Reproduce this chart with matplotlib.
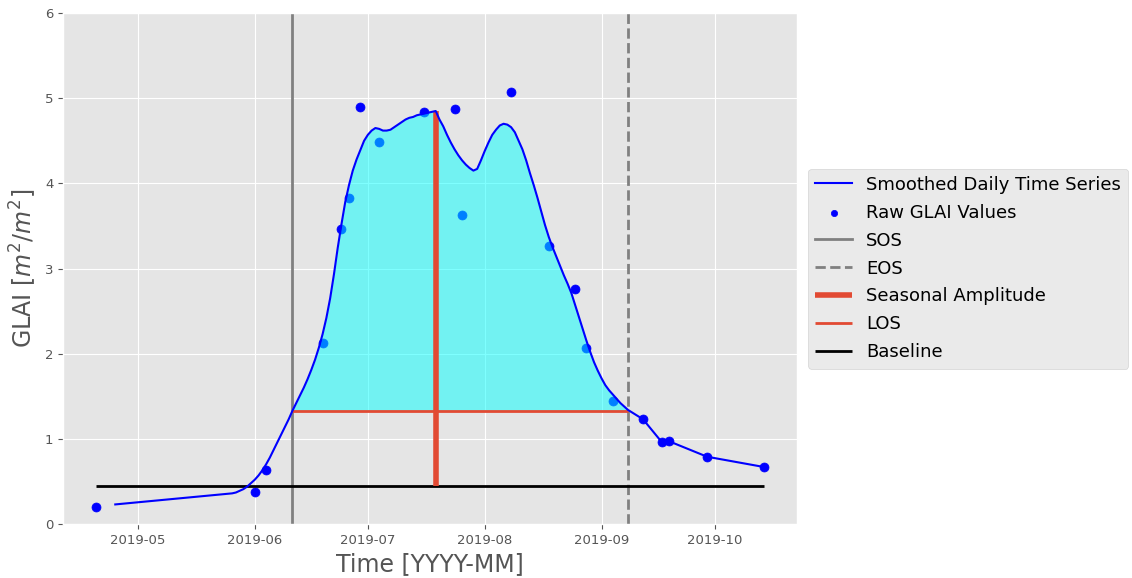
import matplotlib
matplotlib.use("Agg")
import matplotlib.pyplot as plt
import numpy as np
import pandas as pd

plt.style.use("ggplot")

# raw GLAI observations
raw_dates = pd.to_datetime(["2019-04-20", "2019-06-01", "2019-06-04", "2019-06-19", "2019-06-24",
                            "2019-06-26", "2019-06-29", "2019-07-04", "2019-07-16", "2019-07-24",
                            "2019-07-26", "2019-08-08", "2019-08-18", "2019-08-25", "2019-08-28",
                            "2019-09-04", "2019-09-12", "2019-09-17", "2019-09-19", "2019-09-29",
                            "2019-10-14"])
raw_vals = [0.20, 0.38, 0.64, 2.13, 3.46, 3.83, 4.90, 4.49, 4.84, 4.87,
            3.63, 5.07, 3.27, 2.76, 2.07, 1.44, 1.23, 0.96, 0.97, 0.79, 0.67]

# smoothed daily series
may_vals = [0.36, 0.37, 0.39, 0.41, 0.44, 0.48]  # May 26-31
jun_vals = [0.52, 0.57, 0.63, 0.70, 0.78, 0.87, 0.96, 1.05, 1.14, 1.23,
            1.33, 1.42, 1.51, 1.60, 1.70, 1.81, 1.93, 2.07, 2.23, 2.42,
            2.65, 2.93, 3.24, 3.52, 3.78, 3.98, 4.15, 4.28, 4.39, 4.50]
jul_vals = [4.57, 4.62, 4.65, 4.64, 4.62, 4.62, 4.63, 4.66, 4.69, 4.72,
            4.75, 4.77, 4.78, 4.80, 4.81, 4.82, 4.83, 4.84, 4.85, 4.75,
            4.67, 4.57, 4.48, 4.40, 4.33, 4.27, 4.22, 4.18, 4.15, 4.17, 4.27]
aug_vals = [4.38, 4.48, 4.57, 4.63, 4.68, 4.70, 4.69, 4.66, 4.60, 4.50,
            4.40, 4.27, 4.12, 3.98, 3.83, 3.67, 3.51, 3.37, 3.25, 3.14,
            3.03, 2.92, 2.82, 2.71, 2.57, 2.43, 2.29, 2.15, 2.02, 1.90, 1.80]
sep_vals = [1.71, 1.63, 1.57, 1.52, 1.47, 1.42, 1.38, 1.34]  # Sep 1-8
tail_dates = pd.to_datetime(["2019-09-12", "2019-09-17", "2019-09-19", "2019-09-29", "2019-10-14"])
tail_vals = [1.23, 0.96, 0.97, 0.79, 0.67]

smooth_dates = (pd.DatetimeIndex([pd.Timestamp("2019-04-25")])
                .append(pd.date_range("2019-05-26", "2019-09-08", freq="D"))
                .append(tail_dates))
smooth_vals = [0.23] + may_vals + jun_vals + jul_vals + aug_vals + sep_vals + tail_vals

sos_date = pd.Timestamp("2019-06-11")
eos_date = pd.Timestamp("2019-09-08")
peak_date = pd.Timestamp("2019-07-19")
peak_val = 4.85
los_level = 1.33
baseline = 0.445

fig = plt.figure(figsize=(11.32, 5.78), dpi=100)
ax = fig.add_axes([0.0557, 0.0934, 0.6484, 0.884])

ax.plot(smooth_dates, smooth_vals, color="blue", lw=1.5, label="Smoothed Daily Time Series", zorder=3)
ax.scatter(raw_dates, raw_vals, color="blue", s=42, label="Raw GLAI Values", zorder=1)
sd = np.array(smooth_dates)
ax.fill_between(smooth_dates, smooth_vals, los_level,
                where=(sd >= np.datetime64(sos_date)) & (sd <= np.datetime64(eos_date)),
                color="cyan", alpha=0.5, zorder=1, linewidth=0)
ax.axvline(sos_date, color="grey", lw=2, label="SOS")
ax.axvline(eos_date, color="grey", lw=2, ls="--", label="EOS")
ax.vlines(peak_date, baseline, peak_val, color="#E24A33", lw=4, label="Seasonal Amplitude", zorder=2.5)
ax.hlines(los_level, sos_date, eos_date, color="#E24A33", lw=2, label="LOS", zorder=2.4)
ax.hlines(baseline, raw_dates[0], raw_dates[-1], color="black", lw=2, label="Baseline")

ax.set_ylim(0, 6)
ax.set_xlabel("Time [YYYY-MM]", fontsize=17)
ax.set_ylabel("GLAI [$m^2/m^2$]", fontsize=17)
ax.tick_params(labelsize=9.5)
ax.legend(loc="center left", bbox_to_anchor=(1.003, 0.5), fontsize=13,
          labelspacing=0.55, markerscale=0.7)

fig.savefig("out.png", dpi=100)
